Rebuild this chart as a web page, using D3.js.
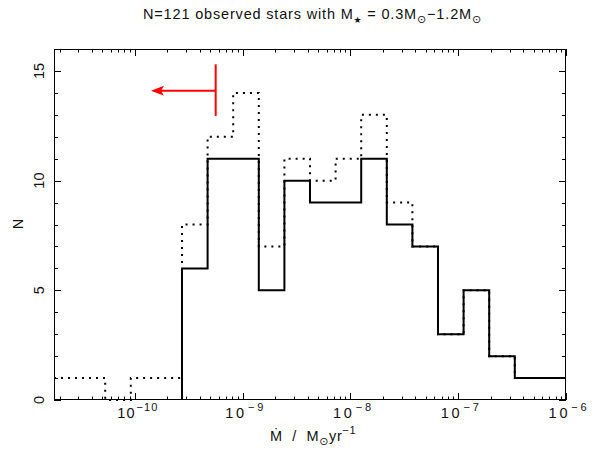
<!DOCTYPE html>
<html>
<head>
<meta charset="utf-8">
<script src="https://cdn.jsdelivr.net/npm/d3@7"></script>
<style>
  body { margin: 0; background: #fff; }
  text { font-family: "Liberation Sans", "DejaVu Sans", sans-serif; fill: #111; }
</style>
</head>
<body>
<script>
// log10 bin edges of the histogram (20 bins)
var binEdges = [-10.75, -10.5125, -10.275, -10.0375, -9.8, -9.5625, -9.325, -9.0875,
                -8.85, -8.6125, -8.375, -8.1375, -7.9, -7.6625, -7.425, -7.1875,
                -6.95, -6.7125, -6.475, -6.2375, -6];

// counts per bin
var solidCounts  = [0, 0, 0, 0, 0, 6, 11, 11, 5, 10, 9, 9, 11, 8, 7, 3, 5, 2, 1, 1];
var dottedCounts = [1, 1, 0, 1, 1, 8, 12, 14, 7, 11, 10, 11, 13, 9, 7, 3, 5, 2, 1, 1];

var xTickExp = [-10, -9, -8, -7, -6];
var yTicksMajor = [0, 5, 10, 15];

// upper limit marker (log10 Mdot, N)
var limitX = -9.25, limitTip = -9.85, limitY = [12.95, 15.3], arrowY = 14.1;

var margin = {top: 49, right: 28, bottom: 52, left: 54},
    W = 594, H = 452,
    width = W - margin.left - margin.right,
    height = H - margin.top - margin.bottom;

var svg = d3.select("body").append("svg")
    .attr("width", W)
    .attr("height", H);

var x = d3.scaleLog().domain([Math.pow(10, binEdges[0]), 1e-6]).range([margin.left, margin.left + width]),
    y = d3.scaleLinear().domain([0, 16]).range([margin.top + height, margin.top]);

var x0 = margin.left, x1 = margin.left + width, y0 = margin.top + height, y1 = margin.top;

// stretch a text to a target width with letter spacing (the original font is wide)
function fitWidth(t, target) {
  var w = t.node().getComputedTextLength();
  var n = t.text().length;
  t.style("letter-spacing", ((target - w) / n) + "px");
}

// ticks on all four sides, pointing inward
var ticks = svg.append("g").attr("stroke", "#000").attr("stroke-width", 1);
x.ticks().forEach(function(t) {
  var major = Math.abs(Math.log10(t) - Math.round(Math.log10(t))) < 1e-6;
  var len = major ? 7 : 3.5;
  var px = Math.round(x(t)) + 0.5;
  ticks.append("line").attr("x1", px).attr("x2", px).attr("y1", y0).attr("y2", y0 - len);
  ticks.append("line").attr("x1", px).attr("x2", px).attr("y1", y1).attr("y2", y1 + len);
});
d3.range(0, 17).forEach(function(t) {
  var len = (t % 5 === 0) ? 7 : 4;
  var py = Math.round(y(t)) + 0.5;
  ticks.append("line").attr("x1", x0).attr("x2", x0 + len).attr("y1", py).attr("y2", py);
  ticks.append("line").attr("x1", x1).attr("x2", x1 - len).attr("y1", py).attr("y2", py);
});

// histograms
function steps(counts, startAtZero) {
  var pts = [];
  counts.forEach(function(c, i) {
    if (startAtZero && c === 0 && pts.length === 0) return;
    if (startAtZero && pts.length === 0) pts.push([binEdges[i], 0]);
    pts.push([binEdges[i], c]);
  });
  pts.push([binEdges[binEdges.length - 1], counts[counts.length - 1]]);
  return pts;
}
var line = d3.line()
    .curve(d3.curveStepAfter)
    .x(function(d) { return x(Math.pow(10, d[0])); })
    .y(function(d) { return y(d[1]); });

svg.append("path")
    .attr("d", line(steps(dottedCounts, false)))
    .attr("fill", "none")
    .attr("stroke", "#000")
    .attr("stroke-width", 2)
    .attr("stroke-dasharray", "2,5");

svg.append("path")
    .attr("d", line(steps(solidCounts, true)))
    .attr("fill", "none")
    .attr("stroke", "#000")
    .attr("stroke-width", 2);

// frame
svg.append("rect")
    .attr("x", x0 + 0.5).attr("y", y1 + 0.5)
    .attr("width", width - 1).attr("height", height - 1)
    .attr("fill", "none").attr("stroke", "#000").attr("stroke-width", 1);

// red upper-limit marker
var red = "#ff0000";
var lx = x(Math.pow(10, limitX)), tx = x(Math.pow(10, limitTip)), ay = y(arrowY);
svg.append("line")
    .attr("x1", lx).attr("x2", lx).attr("y1", y(limitY[0])).attr("y2", y(limitY[1]))
    .attr("stroke", red).attr("stroke-width", 2);
svg.append("line")
    .attr("x1", lx).attr("x2", tx + 8).attr("y1", ay).attr("y2", ay)
    .attr("stroke", red).attr("stroke-width", 2);
svg.append("path")
    .attr("d", "M" + tx + "," + ay + "L" + (tx + 13) + "," + (ay - 5) + "L" + (tx + 10) + "," + ay +
               "L" + (tx + 13) + "," + (ay + 5) + "Z")
    .attr("fill", red);

// x tick labels
xTickExp.forEach(function(e) {
  var t = svg.append("text")
      .attr("x", x(Math.pow(10, e)) + 3)
      .attr("y", 418)
      .attr("text-anchor", "middle")
      .style("font-size", "14.5px");
  t.append("tspan").text("10");
  t.append("tspan").attr("dy", -7).attr("dx", 1).style("font-size", "11px").text("\u2212" + Math.abs(e));
  fitWidth(t, 40);
});

// y tick labels (rotated)
yTicksMajor.forEach(function(v) {
  svg.append("text")
      .attr("transform", "translate(44," + y(v) + ")rotate(-90)")
      .attr("text-anchor", "middle")
      .style("font-size", "14.5px")
      .text(v);
});

// axis titles
svg.append("text")
    .attr("transform", "translate(23," + 224 + ")rotate(-90)")
    .attr("text-anchor", "middle")
    .style("font-size", "14.5px")
    .text("N");

var xl = svg.append("text")
    .attr("x", 270)
    .attr("y", 441)
    .style("font-size", "14.5px")
    .style("letter-spacing", "0.6px");
xl.append("tspan").style("word-spacing", "5px").text("\u1E40 / M");
xl.append("tspan").attr("dy", 4).style("font-size", "11px").text("\u2299");
xl.append("tspan").attr("dy", -4).text("yr");
xl.append("tspan").attr("dy", -7).style("font-size", "11px").text("\u22121");

// title
var title = svg.append("text")
    .attr("x", 143)
    .attr("y", 19)
    .style("font-size", "14.5px");
title.append("tspan").text("N=121 observed stars with M");
title.append("tspan").attr("dy", 4).style("font-size", "9px").text("\u2605");
title.append("tspan").attr("dy", -4).text(" = 0.3M");
title.append("tspan").attr("dy", 4).style("font-size", "11px").text("\u2299");
title.append("tspan").attr("dy", -4).text("\u22121.2M");
title.append("tspan").attr("dy", 4).style("font-size", "11px").text("\u2299");
fitWidth(title, 339);
</script>
</body>
</html>
